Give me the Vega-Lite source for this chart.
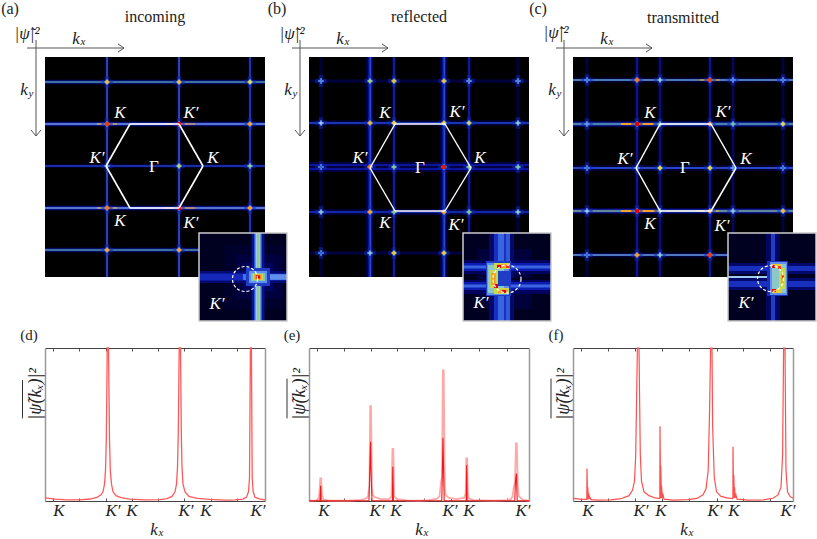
{"$schema":"https://vega.github.io/schema/vega-lite/v6.json","width":817,"height":539,"autosize":"none","padding":0,"background":"white","config":{"view":{"stroke":null},"range":{"heatmap":["#000000","#000050","#0c1cb0","#3f6fe8","#9fc8f0","#70c890","#e0e040","#ff9020","#e80000"]},"text":{"font":"Liberation Serif"}},"resolve":{"scale":{"x":"independent","y":"independent"},"axis":{"x":"independent","y":"independent"}},"layer":[
{"encoding":{"x":{"field":"x","type":"quantitative","scale":{"domain":[-110,110],"range":[45,265]},"axis":null},"y":{"field":"y","type":"quantitative","scale":{"domain":[-110,110],"range":[57,277]},"axis":null}},"layer":[
{"data":{"values":[{"x":-110,"x2":110,"y":-110,"y2":110,"v":0},
{"x":-50.5,"x2":-45.5,"y":-110,"y2":110,"v":0.07},{"x":21.5,"x2":26.5,"y":-110,"y2":110,"v":0.07},{"x":92.5,"x2":97.5,"y":-110,"y2":110,"v":0.07},
{"x":-110,"x2":110,"y":-87.5,"y2":-82.5,"v":0.08},{"x":-110,"x2":110,"y":-45.5,"y2":-40.5,"v":0.1},{"x":-110,"x2":110,"y":-3,"y2":1,"v":0.07},{"x":-110,"x2":110,"y":38.5,"y2":43.5,"v":0.1},{"x":-110,"x2":110,"y":80.5,"y2":85.5,"v":0.08},
{"x":-49,"x2":-47,"y":-110,"y2":110,"v":0.2},{"x":23,"x2":25,"y":-110,"y2":110,"v":0.2},{"x":94,"x2":96,"y":-110,"y2":110,"v":0.18},
{"x":-110,"x2":110,"y":-86.5,"y2":-83.5,"v":0.24},{"x":-110,"x2":110,"y":-44.5,"y2":-41.5,"v":0.26},{"x":-110,"x2":110,"y":-2,"y2":0,"v":0.18},{"x":-110,"x2":110,"y":39.5,"y2":42.5,"v":0.26},{"x":-110,"x2":110,"y":81.5,"y2":84.5,"v":0.24},
{"x":-48.4,"x2":-47.6,"y":-110,"y2":110,"v":0.42},{"x":23.6,"x2":24.4,"y":-110,"y2":110,"v":0.42},{"x":94.6,"x2":95.4,"y":-110,"y2":110,"v":0.38},
{"x":-110,"x2":110,"y":-85.5,"y2":-84.5,"v":0.62},{"x":-110,"x2":110,"y":-43.5,"y2":-42.5,"v":0.5},{"x":-110,"x2":110,"y":-1.4,"y2":-0.6,"v":0.33},{"x":-110,"x2":110,"y":40.5,"y2":41.5,"v":0.5},{"x":-110,"x2":110,"y":82.5,"y2":83.5,"v":0.62},
{"x":-58,"x2":-38,"y":-43.5,"y2":-42.5,"v":0.8},{"x":10,"x2":40,"y":-43.5,"y2":-42.5,"v":0.85},{"x":-58,"x2":-38,"y":40.5,"y2":41.5,"v":0.8},{"x":10,"x2":40,"y":40.5,"y2":41.5,"v":0.85}]},
"mark":"rect","encoding":{"x2":{"field":"x2"},"y2":{"field":"y2"},"color":{"field":"v","type":"quantitative","scale":{"domain":[0,1],"interpolate":"rgb"},"legend":null}}},
{"data":{"name":"na","values":[{"x":-48,"y":-85,"v":0.8},{"x":24,"y":-85,"v":0.8},{"x":95,"y":-85,"v":0.75},{"x":-48,"y":-43,"v":0.95},{"x":24,"y":-43,"v":1},{"x":95,"y":-43,"v":0.85},{"x":-48,"y":-1,"v":0.45},{"x":24,"y":-1,"v":0.7},{"x":95,"y":-1,"v":0.65},{"x":-48,"y":41,"v":0.9},{"x":24,"y":41,"v":1},{"x":95,"y":41,"v":0.85},{"x":-48,"y":83,"v":0.85},{"x":24,"y":83,"v":0.85},{"x":95,"y":83,"v":0.8}]},
"mark":{"type":"point","shape":"cross","filled":true,"size":130,"opacity":0.55,"color":"#1428b0"}},
{"data":{"name":"na"},"mark":{"type":"point","shape":"cross","filled":true,"size":30,"opacity":0.9,"color":"#5a90e8"}},
{"data":{"name":"na"},"mark":{"type":"point","shape":"circle","filled":true,"opacity":1},"encoding":{"size":{"field":"v","type":"quantitative","scale":{"domain":[0,1],"range":[1,20]},"legend":null},"color":{"field":"v","type":"quantitative","scale":{"domain":[0,1],"interpolate":"rgb"},"legend":null}}},
{"data":{"values":[{"x":-25,"x2":24,"y":-43,"y2":-43},{"x":24,"x2":48,"y":-43,"y2":-1},{"x":48,"x2":24,"y":-1,"y2":41},{"x":24,"x2":-25,"y":41,"y2":41},{"x":-25,"x2":-49,"y":41,"y2":-1},{"x":-49,"x2":-25,"y":-1,"y2":-43}]},"mark":{"type":"rule","color":"white","strokeWidth":1.6},"encoding":{"x2":{"field":"x2"},"y2":{"field":"y2"}}},
{"data":{"values":[{"x":-128,"x2":-31,"y":-119,"y2":-119},{"x":-37,"x2":-31,"y":-123,"y2":-119},{"x":-37,"x2":-31,"y":-115,"y2":-119},{"x":-119,"x2":-119,"y":-127,"y2":-31},{"x":-124,"x2":-119,"y":-37,"y2":-31},{"x":-114,"x2":-119,"y":-37,"y2":-31}]},"mark":{"type":"rule","color":"#555555","strokeWidth":1},"encoding":{"x2":{"field":"x2"},"y2":{"field":"y2"}}},
{"data":{"values":[{"x":-145,"y":-158,"t":"(a)"},{"x":0,"y":-150,"t":"incoming"}]},"mark":{"type":"text","fontSize":16,"color":"#222222"},"encoding":{"text":{"field":"t"}}},
{"data":{"values":[{"x":-128,"y":-133,"t":"|ψ̃|²"},{"x":-79,"y":-128,"t":"k"},{"x":-131,"y":-77,"t":"k"}]},"mark":{"type":"text","fontSize":17,"fontStyle":"italic","color":"#222222"},"encoding":{"text":{"field":"t"}}},
{"data":{"values":[{"x":-72,"y":-125,"t":"x"},{"x":-124,"y":-73,"t":"y"}]},"mark":{"type":"text","fontSize":11,"fontStyle":"italic","color":"#222222"},"encoding":{"text":{"field":"t"}}},
{"data":{"values":[{"x":-35,"y":-54,"t":"K"},{"x":36,"y":-54,"t":"K′"},{"x":-58,"y":-9,"t":"K′"},{"x":58,"y":-9,"t":"K"},{"x":-35,"y":54,"t":"K"},{"x":36,"y":56,"t":"K′"}]},"mark":{"type":"text","fontSize":17,"fontStyle":"italic","color":"white"},"encoding":{"text":{"field":"t"}}},
{"data":{"values":[{"x":-1,"y":0,"t":"Γ"}]},"mark":{"type":"text","fontSize":17,"color":"white"},"encoding":{"text":{"field":"t"}}}
]},
{"encoding":{"x":{"field":"x","type":"quantitative","scale":{"domain":[-44,44],"range":[199,287]},"axis":null},"y":{"field":"y","type":"quantitative","scale":{"domain":[-44,44],"range":[233,321]},"axis":null}},"layer":[
{"data":{"values":[{"x":-44,"x2":44,"y":-44,"y2":44,"v":0.05},{"x":-20,"x2":43,"y":-32,"y2":32,"v":0.07},{"x":-8,"x2":38,"y":-22,"y2":22,"v":0.1},{"x":0,"x2":30,"y":-14,"y2":14,"v":0.14},{"x":-44,"x2":44,"y":-6,"y2":6,"v":0.17},{"x":-44,"x2":44,"y":-3.5,"y2":3.5,"v":0.27},{"x":0,"x2":44,"y":-3,"y2":3,"v":0.38},{"x":21,"x2":44,"y":-2.5,"y2":2.5,"v":0.42},{"x":8.5,"x2":21.5,"y":-44,"y2":44,"v":0.2},{"x":11,"x2":19,"y":-44,"y2":44,"v":0.34},{"x":12.5,"x2":17.5,"y":-44,"y2":44,"v":0.5},{"x":14,"x2":16,"y":-44,"y2":44,"v":0.66},{"x":3,"x2":27,"y":-9,"y2":9,"v":0.3},{"x":6,"x2":24,"y":-6,"y2":6,"v":0.42},{"x":8,"x2":22,"y":-4,"y2":4,"v":0.58},{"x":10,"x2":20,"y":-3,"y2":3,"v":0.72},{"x":11.5,"x2":18.5,"y":-2.5,"y2":2.5,"v":0.88},{"x":13,"x2":17,"y":-1.5,"y2":1.5,"v":1}]},"mark":"rect","encoding":{"x2":{"field":"x2"},"y2":{"field":"y2"},"color":{"field":"v","type":"quantitative","scale":{"domain":[0,1],"interpolate":"rgb"},"legend":null}}},
{"data":{"values":[{"x":-44,"x2":44,"y":-44,"y2":44}]},"mark":{"type":"rect","fill":null,"stroke":"#cccccc","strokeWidth":1.5},"encoding":{"x2":{"field":"x2"},"y2":{"field":"y2"}}},
{"data":{"values":[{"x":2,"y":2}]},"mark":{"type":"point","shape":"circle","size":625,"stroke":"white","fill":null,"strokeWidth":1.2,"strokeDash":[3,2],"opacity":1}},
{"data":{"values":[{"x":-26,"y":27,"t":"K′"}]},"mark":{"type":"text","fontSize":17,"fontStyle":"italic","color":"white"},"encoding":{"text":{"field":"t"}}}
]},
{"encoding":{"x":{"field":"x","type":"quantitative","scale":{"domain":[-110,110],"range":[309,529]},"axis":null},"y":{"field":"y","type":"quantitative","scale":{"domain":[-110,110],"range":[57,277]},"axis":null}},"layer":[
{"data":{"values":[{"x":-110,"x2":110,"y":-110,"y2":110,"v":0},
{"x":-100,"x2":-96,"y":-110,"y2":110,"v":0.05},{"x":97,"x2":101,"y":-110,"y2":110,"v":0.05},{"x":-110,"x2":110,"y":-88,"y2":-84,"v":0.05},{"x":-110,"x2":110,"y":84,"y2":88,"v":0.05},
{"x":-53,"x2":-45,"y":-110,"y2":110,"v":0.1},{"x":21,"x2":29,"y":-110,"y2":110,"v":0.1},{"x":-27,"x2":-23,"y":-110,"y2":110,"v":0.09},{"x":48,"x2":52,"y":-110,"y2":110,"v":0.09},
{"x":-110,"x2":110,"y":-5,"y2":5,"v":0.1},{"x":-110,"x2":110,"y":-46.5,"y2":-41.5,"v":0.09},{"x":-110,"x2":110,"y":42,"y2":48,"v":0.09},
{"x":-51,"x2":-47,"y":-110,"y2":110,"v":0.2},{"x":23,"x2":27,"y":-110,"y2":110,"v":0.2},{"x":-26,"x2":-24,"y":-110,"y2":110,"v":0.18},{"x":49,"x2":51,"y":-110,"y2":110,"v":0.18},{"x":-98.6,"x2":-97.4,"y":-110,"y2":110,"v":0.13},{"x":98.4,"x2":99.6,"y":-110,"y2":110,"v":0.13},
{"x":-110,"x2":110,"y":-3,"y2":-1,"v":0.22},{"x":-110,"x2":110,"y":1,"y2":3,"v":0.22},{"x":-110,"x2":110,"y":-45,"y2":-43,"v":0.2},{"x":-110,"x2":110,"y":44,"y2":46,"v":0.2},{"x":-110,"x2":110,"y":-86.6,"y2":-85.4,"v":0.14},{"x":-110,"x2":110,"y":85.4,"y2":86.6,"v":0.14},
{"x":-49.5,"x2":-48,"y":-110,"y2":110,"v":0.32},{"x":24.5,"x2":26,"y":-110,"y2":110,"v":0.32},{"x":-25.4,"x2":-24.6,"y":-110,"y2":110,"v":0.3},{"x":49.6,"x2":50.4,"y":-110,"y2":110,"v":0.28},{"x":-110,"x2":110,"y":-44.5,"y2":-43.5,"v":0.34},{"x":-110,"x2":110,"y":44.5,"y2":45.5,"v":0.3}]},
"mark":"rect","encoding":{"x2":{"field":"x2"},"y2":{"field":"y2"},"color":{"field":"v","type":"quantitative","scale":{"domain":[0,1],"interpolate":"rgb"},"legend":null}}},
{"data":{"name":"nb","values":[{"x":-98,"y":-86,"v":0.4},{"x":-49,"y":-86,"v":0.68},{"x":-25,"y":-86,"v":0.8},{"x":25,"y":-86,"v":0.8},{"x":50,"y":-86,"v":0.4},{"x":99,"y":-86,"v":0.4},{"x":-98,"y":-44,"v":0.5},{"x":-49,"y":-44,"v":0.82},{"x":-25,"y":-44,"v":0.75},{"x":25,"y":-44,"v":0.78},{"x":50,"y":-44,"v":0.72},{"x":99,"y":-44,"v":0.55},{"x":-98,"y":0,"v":0.35},{"x":-49,"y":0,"v":0.9},{"x":-25,"y":0,"v":0.65},{"x":25,"y":0,"v":0.98},{"x":50,"y":0,"v":0.65},{"x":99,"y":0,"v":0.6},{"x":-98,"y":45,"v":0.55},{"x":-49,"y":45,"v":0.86},{"x":-25,"y":45,"v":0.65},{"x":25,"y":45,"v":0.86},{"x":50,"y":45,"v":0.65},{"x":99,"y":45,"v":0.55},{"x":-98,"y":86,"v":0.35},{"x":-49,"y":86,"v":0.55},{"x":-25,"y":86,"v":0.78},{"x":25,"y":86,"v":0.78},{"x":50,"y":86,"v":0.35},{"x":99,"y":86,"v":0.35}]},
"mark":{"type":"point","shape":"cross","filled":true,"size":130,"opacity":0.55,"color":"#1428b0"}},
{"data":{"name":"nb"},"mark":{"type":"point","shape":"cross","filled":true,"size":30,"opacity":0.9,"color":"#5a90e8"}},
{"data":{"name":"nb"},"mark":{"type":"point","shape":"circle","filled":true,"opacity":1},"encoding":{"size":{"field":"v","type":"quantitative","scale":{"domain":[0,1],"range":[1,20]},"legend":null},"color":{"field":"v","type":"quantitative","scale":{"domain":[0,1],"interpolate":"rgb"},"legend":null}}},
{"data":{"values":[{"x":-24,"x2":26,"y":-43,"y2":-43},{"x":26,"x2":52,"y":-43,"y2":1},{"x":52,"x2":26,"y":1,"y2":44},{"x":26,"x2":-24,"y":44,"y2":44},{"x":-24,"x2":-49,"y":44,"y2":1},{"x":-49,"x2":-24,"y":1,"y2":-43}]},"mark":{"type":"rule","color":"white","strokeWidth":1.4},"encoding":{"x2":{"field":"x2"},"y2":{"field":"y2"}}},
{"data":{"values":[{"x":-127,"x2":-31,"y":-119,"y2":-119},{"x":-37,"x2":-31,"y":-123,"y2":-119},{"x":-37,"x2":-31,"y":-115,"y2":-119},{"x":-119,"x2":-119,"y":-127,"y2":-31},{"x":-124,"x2":-119,"y":-37,"y2":-31},{"x":-114,"x2":-119,"y":-37,"y2":-31}]},"mark":{"type":"rule","color":"#555555","strokeWidth":1},"encoding":{"x2":{"field":"x2"},"y2":{"field":"y2"}}},
{"data":{"values":[{"x":-142,"y":-158,"t":"(b)"},{"x":0,"y":-150,"t":"reflected"}]},"mark":{"type":"text","fontSize":16,"color":"#222222"},"encoding":{"text":{"field":"t"}}},
{"data":{"values":[{"x":-127,"y":-133,"t":"|ψ̃|²"},{"x":-79,"y":-128,"t":"k"},{"x":-131,"y":-77,"t":"k"}]},"mark":{"type":"text","fontSize":17,"fontStyle":"italic","color":"#222222"},"encoding":{"text":{"field":"t"}}},
{"data":{"values":[{"x":-72,"y":-125,"t":"x"},{"x":-124,"y":-73,"t":"y"}]},"mark":{"type":"text","fontSize":11,"fontStyle":"italic","color":"#222222"},"encoding":{"text":{"field":"t"}}},
{"data":{"values":[{"x":-34,"y":-54,"t":"K"},{"x":38,"y":-55,"t":"K′"},{"x":-59,"y":-9,"t":"K′"},{"x":61,"y":-9,"t":"K"},{"x":-34,"y":56,"t":"K"},{"x":37,"y":58,"t":"K′"}]},"mark":{"type":"text","fontSize":17,"fontStyle":"italic","color":"white"},"encoding":{"text":{"field":"t"}}},
{"data":{"values":[{"x":1,"y":1,"t":"Γ"}]},"mark":{"type":"text","fontSize":17,"color":"white"},"encoding":{"text":{"field":"t"}}}
]},
{"encoding":{"x":{"field":"x","type":"quantitative","scale":{"domain":[-44,44],"range":[463,551]},"axis":null},"y":{"field":"y","type":"quantitative","scale":{"domain":[-44,44],"range":[233,321]},"axis":null}},"layer":[
{"data":{"values":[{"x":-44,"x2":44,"y":-44,"y2":44,"v":0.05},{"x":-30,"x2":25,"y":-28,"y2":32,"v":0.09},{"x":-44,"x2":44,"y":-17,"y2":-3,"v":0.14},{"x":-44,"x2":44,"y":3,"y2":17,"v":0.14},{"x":-18,"x2":7,"y":-44,"y2":44,"v":0.16},{"x":-44,"x2":44,"y":-14,"y2":-6,"v":0.25},{"x":-44,"x2":44,"y":5,"y2":13,"v":0.25},{"x":-44,"x2":44,"y":-11.5,"y2":-8.5,"v":0.36},{"x":-44,"x2":44,"y":7.5,"y2":10.5,"v":0.36},{"x":2,"x2":44,"y":1,"y2":3,"v":0.05},{"x":-13,"x2":-1,"y":-44,"y2":44,"v":0.28},{"x":-9,"x2":-3,"y":-44,"y2":44,"v":0.36},{"x":-1,"x2":3,"y":-44,"y2":44,"v":0.34},{"x":-21,"x2":4,"y":-16,"y2":19,"v":0.3},{"x":-20,"x2":2,"y":-14,"y2":18,"v":0.42},{"x":-19,"x2":-3,"y":-12,"y2":16,"v":0.55},{"x":-9,"x2":4,"y":-6,"y2":9,"v":0.3},{"x":-17,"x2":-9,"y":-7,"y2":11,"v":0.72},{"x":-16,"x2":-11,"y":-4,"y2":8,"v":0.85},{"x":-13,"x2":3,"y":-14,"y2":-8,"v":0.72},{"x":-9,"x2":2,"y":-13,"y2":-9,"v":0.85},{"x":-13,"x2":2,"y":11,"y2":17,"v":0.72},{"x":-9,"x2":1,"y":12.5,"y2":16,"v":0.85},{"x":-10,"x2":-6,"y":-12,"y2":-9,"v":1},{"x":-13,"x2":-9,"y":7,"y2":11,"v":1},{"x":-5,"x2":-1,"y":13,"y2":16,"v":1},{"x":-1,"x2":3,"y":-12,"y2":-9,"v":0.95}]},"mark":"rect","encoding":{"x2":{"field":"x2"},"y2":{"field":"y2"},"color":{"field":"v","type":"quantitative","scale":{"domain":[0,1],"interpolate":"rgb"},"legend":null}}},
{"data":{"values":[{"x":-44,"x2":44,"y":-44,"y2":44}]},"mark":{"type":"rect","fill":null,"stroke":"#cccccc","strokeWidth":1.5},"encoding":{"x2":{"field":"x2"},"y2":{"field":"y2"}}},
{"data":{"values":[{"x":0,"y":2}]},"mark":{"type":"point","shape":"circle","size":784,"stroke":"white","fill":null,"strokeWidth":1.2,"strokeDash":[3,2],"opacity":1}},
{"data":{"values":[{"x":-26,"y":26,"t":"K′"}]},"mark":{"type":"text","fontSize":17,"fontStyle":"italic","color":"white"},"encoding":{"text":{"field":"t"}}}
]},
{"encoding":{"x":{"field":"x","type":"quantitative","scale":{"domain":[-110,110],"range":[573,793]},"axis":null},"y":{"field":"y","type":"quantitative","scale":{"domain":[-110,110],"range":[57,277]},"axis":null}},"layer":[
{"data":{"values":[{"x":-110,"x2":110,"y":-110,"y2":110,"v":0},
{"x":-98,"x2":-94,"y":-110,"y2":110,"v":0.05},{"x":98,"x2":102,"y":-110,"y2":110,"v":0.05},{"x":-48.5,"x2":-43.5,"y":-110,"y2":110,"v":0.08},{"x":-25.5,"x2":-20.5,"y":-110,"y2":110,"v":0.08},{"x":24.5,"x2":29.5,"y":-110,"y2":110,"v":0.08},{"x":48,"x2":52,"y":-110,"y2":110,"v":0.07},
{"x":-110,"x2":110,"y":-89.5,"y2":-84.5,"v":0.09},{"x":-110,"x2":110,"y":-46,"y2":-40,"v":0.12},{"x":-110,"x2":110,"y":-2,"y2":4,"v":0.08},{"x":-110,"x2":110,"y":41,"y2":47,"v":0.12},{"x":-110,"x2":110,"y":85.5,"y2":90.5,"v":0.09},
{"x":-46.7,"x2":-45.3,"y":-110,"y2":110,"v":0.26},{"x":-23.7,"x2":-22.3,"y":-110,"y2":110,"v":0.22},{"x":26.3,"x2":27.7,"y":-110,"y2":110,"v":0.26},{"x":49.5,"x2":50.5,"y":-110,"y2":110,"v":0.2},{"x":99.5,"x2":100.5,"y":-110,"y2":110,"v":0.15},{"x":-96.5,"x2":-95.5,"y":-110,"y2":110,"v":0.15},
{"x":-110,"x2":110,"y":-88,"y2":-86,"v":0.28},{"x":-110,"x2":110,"y":-44.5,"y2":-41.5,"v":0.3},{"x":-110,"x2":110,"y":0,"y2":2,"v":0.24},{"x":-110,"x2":110,"y":42.5,"y2":45.5,"v":0.3},{"x":-110,"x2":110,"y":87,"y2":89,"v":0.26},
{"x":-110,"x2":110,"y":-87.4,"y2":-86.6,"v":0.6},{"x":-110,"x2":110,"y":-43.5,"y2":-42.5,"v":0.62},{"x":-110,"x2":110,"y":0.6,"y2":1.4,"v":0.38},{"x":-110,"x2":110,"y":43.5,"y2":44.5,"v":0.68},{"x":-110,"x2":110,"y":87.5,"y2":88.5,"v":0.55},
{"x":-62,"x2":-30,"y":-44,"y2":-42,"v":0.85},{"x":-62,"x2":-23,"y":43,"y2":45,"v":0.85},{"x":17,"x2":37,"y":-87.5,"y2":-86.5,"v":0.85},{"x":14,"x2":36,"y":43.5,"y2":44.5,"v":0.8}]},
"mark":"rect","encoding":{"x2":{"field":"x2"},"y2":{"field":"y2"},"color":{"field":"v","type":"quantitative","scale":{"domain":[0,1],"interpolate":"rgb"},"legend":null}}},
{"data":{"name":"nc","values":[{"x":-96,"y":-87,"v":0.38},{"x":-46,"y":-87,"v":0.9},{"x":-23,"y":-87,"v":0.55},{"x":27,"y":-87,"v":0.95},{"x":50,"y":-87,"v":0.4},{"x":100,"y":-87,"v":0.38},{"x":-96,"y":-43,"v":0.42},{"x":-46,"y":-43,"v":1},{"x":-23,"y":-43,"v":0.62},{"x":27,"y":-43,"v":0.88},{"x":50,"y":-43,"v":0.62},{"x":100,"y":-43,"v":0.76},{"x":-96,"y":1,"v":0.36},{"x":-46,"y":1,"v":0.42},{"x":-23,"y":1,"v":0.76},{"x":27,"y":1,"v":0.76},{"x":50,"y":1,"v":0.42},{"x":100,"y":1,"v":0.36},{"x":-96,"y":44,"v":0.5},{"x":-46,"y":44,"v":1},{"x":-23,"y":44,"v":0.55},{"x":27,"y":44,"v":0.86},{"x":50,"y":44,"v":0.55},{"x":100,"y":44,"v":0.8},{"x":-96,"y":88,"v":0.36},{"x":-46,"y":88,"v":0.86},{"x":-23,"y":88,"v":0.55},{"x":27,"y":88,"v":0.95},{"x":50,"y":88,"v":0.4},{"x":100,"y":88,"v":0.42}]},
"mark":{"type":"point","shape":"cross","filled":true,"size":130,"opacity":0.55,"color":"#1428b0"}},
{"data":{"name":"nc"},"mark":{"type":"point","shape":"cross","filled":true,"size":30,"opacity":0.9,"color":"#5a90e8"}},
{"data":{"name":"nc"},"mark":{"type":"point","shape":"circle","filled":true,"opacity":1},"encoding":{"size":{"field":"v","type":"quantitative","scale":{"domain":[0,1],"range":[1,20]},"legend":null},"color":{"field":"v","type":"quantitative","scale":{"domain":[0,1],"interpolate":"rgb"},"legend":null}}},
{"data":{"values":[{"x":-23,"x2":28,"y":-43,"y2":-43},{"x":28,"x2":53,"y":-43,"y2":1},{"x":53,"x2":28,"y":1,"y2":44},{"x":28,"x2":-23,"y":44,"y2":44},{"x":-23,"x2":-47,"y":44,"y2":1},{"x":-47,"x2":-23,"y":1,"y2":-43}]},"mark":{"type":"rule","color":"white","strokeWidth":1.5},"encoding":{"x2":{"field":"x2"},"y2":{"field":"y2"}}},
{"data":{"values":[{"x":-127,"x2":-31,"y":-119,"y2":-119},{"x":-37,"x2":-31,"y":-123,"y2":-119},{"x":-37,"x2":-31,"y":-115,"y2":-119},{"x":-119,"x2":-119,"y":-127,"y2":-31},{"x":-124,"x2":-119,"y":-37,"y2":-31},{"x":-114,"x2":-119,"y":-37,"y2":-31}]},"mark":{"type":"rule","color":"#555555","strokeWidth":1},"encoding":{"x2":{"field":"x2"},"y2":{"field":"y2"}}},
{"data":{"values":[{"x":-145,"y":-158,"t":"(c)"},{"x":0,"y":-149,"t":"transmitted"}]},"mark":{"type":"text","fontSize":16,"color":"#222222"},"encoding":{"text":{"field":"t"}}},
{"data":{"values":[{"x":-127,"y":-134,"t":"|ψ̃|²"},{"x":-79,"y":-128,"t":"k"},{"x":-131,"y":-77,"t":"k"}]},"mark":{"type":"text","fontSize":17,"fontStyle":"italic","color":"#222222"},"encoding":{"text":{"field":"t"}}},
{"data":{"values":[{"x":-72,"y":-125,"t":"x"},{"x":-124,"y":-73,"t":"y"}]},"mark":{"type":"text","fontSize":11,"fontStyle":"italic","color":"#222222"},"encoding":{"text":{"field":"t"}}},
{"data":{"values":[{"x":-33,"y":-54,"t":"K"},{"x":40,"y":-55,"t":"K′"},{"x":-58,"y":-8,"t":"K′"},{"x":63,"y":-8,"t":"K"},{"x":-33,"y":57,"t":"K"},{"x":39,"y":59,"t":"K′"}]},"mark":{"type":"text","fontSize":17,"fontStyle":"italic","color":"white"},"encoding":{"text":{"field":"t"}}},
{"data":{"values":[{"x":2,"y":1,"t":"Γ"}]},"mark":{"type":"text","fontSize":17,"color":"white"},"encoding":{"text":{"field":"t"}}}
]},
{"encoding":{"x":{"field":"x","type":"quantitative","scale":{"domain":[-44,44],"range":[728,816]},"axis":null},"y":{"field":"y","type":"quantitative","scale":{"domain":[-44,44],"range":[233,321]},"axis":null}},"layer":[
{"data":{"values":[{"x":-44,"x2":44,"y":-44,"y2":44,"v":0.05},{"x":-44,"x2":44,"y":-14,"y2":-3,"v":0.16},{"x":-44,"x2":44,"y":1,"y2":13,"v":0.16},{"x":-6,"x2":8,"y":-44,"y2":44,"v":0.15},{"x":-44,"x2":44,"y":-11,"y2":-6,"v":0.28},{"x":-44,"x2":44,"y":4,"y2":10,"v":0.28},{"x":-1,"x2":3,"y":-44,"y2":44,"v":0.3},{"x":-44,"x2":0,"y":-1,"y2":1,"v":0.5},{"x":-5,"x2":16,"y":-16,"y2":19,"v":0.28},{"x":-2,"x2":15,"y":-15,"y2":18,"v":0.42},{"x":0,"x2":14,"y":-13,"y2":16,"v":0.55},{"x":-1,"x2":10,"y":-13,"y2":-9,"v":0.78},{"x":0,"x2":10,"y":12,"y2":16,"v":0.78},{"x":7,"x2":13,"y":-9,"y2":12,"v":0.72},{"x":9,"x2":12,"y":-4,"y2":6,"v":0.85},{"x":0,"x2":3,"y":-12,"y2":-9,"v":1},{"x":0,"x2":4,"y":12,"y2":15,"v":1},{"x":6,"x2":9,"y":-11,"y2":-8,"v":0.95},{"x":10,"x2":12,"y":-2,"y2":1,"v":0.95}]},"mark":"rect","encoding":{"x2":{"field":"x2"},"y2":{"field":"y2"},"color":{"field":"v","type":"quantitative","scale":{"domain":[0,1],"interpolate":"rgb"},"legend":null}}},
{"data":{"values":[{"x":-44,"x2":44,"y":-44,"y2":44}]},"mark":{"type":"rect","fill":null,"stroke":"#cccccc","strokeWidth":1.5},"encoding":{"x2":{"field":"x2"},"y2":{"field":"y2"}}},
{"data":{"values":[{"x":-1.5,"y":1.5}]},"mark":{"type":"point","shape":"circle","size":676,"stroke":"white","fill":null,"strokeWidth":1.2,"strokeDash":[3,2],"opacity":1}},
{"data":{"values":[{"x":-26,"y":26,"t":"K′"}]},"mark":{"type":"text","fontSize":17,"fontStyle":"italic","color":"white"},"encoding":{"text":{"field":"t"}}}
]},
{"encoding":{"x":{"field":"x","type":"quantitative","scale":{"domain":[-110,110],"range":[45,265]},"axis":{"orient":"bottom","offset":-38,"values":[-102,-76,-49,-23,3,29,56,82],"labels":false,"title":null,"grid":false,"tickSize":-3,"tickColor":"#555555","domainColor":"#444444"}},"y":{"field":"y","type":"quantitative","scale":{"domain":[0,1],"range":[501,348]},"axis":{"orient":"left","offset":-45,"ticks":false,"labels":false,"title":null,"grid":false,"domainColor":"#999999","domainWidth":1.5}}},"layer":[
{"data":{"values":[{"x":-110,"y":0.02},{"x":-100,"y":0.012},{"x":-88,"y":0.007},{"x":-75,"y":0.008},{"x":-65,"y":0.013},{"x":-58,"y":0.024},{"x":-54,"y":0.04},{"x":-52,"y":0.06},{"x":-50.5,"y":0.11},{"x":-49.5,"y":0.2},{"x":-48.7,"y":0.4},{"x":-48.2,"y":0.7},{"x":-47.8,"y":1},{"x":-46.5,"y":1},{"x":-46,"y":0.7},{"x":-45.5,"y":0.4},{"x":-44.7,"y":0.2},{"x":-43.5,"y":0.11},{"x":-42,"y":0.06},{"x":-39,"y":0.035},{"x":-34,"y":0.022},{"x":-25,"y":0.012},{"x":-10,"y":0.007},{"x":5,"y":0.009},{"x":12,"y":0.015},{"x":17,"y":0.03},{"x":20,"y":0.06},{"x":21.5,"y":0.11},{"x":22.5,"y":0.22},{"x":23.3,"y":0.45},{"x":24.2,"y":1},{"x":25.5,"y":1},{"x":26.3,"y":0.45},{"x":27,"y":0.22},{"x":28,"y":0.11},{"x":30,"y":0.06},{"x":34,"y":0.03},{"x":42,"y":0.017},{"x":55,"y":0.01},{"x":70,"y":0.006},{"x":80,"y":0.007},{"x":88,"y":0.012},{"x":91.5,"y":0.025},{"x":93.5,"y":0.06},{"x":94.5,"y":0.15},{"x":95.4,"y":1},{"x":96.4,"y":1},{"x":97.2,"y":0.15},{"x":98.2,"y":0.06},{"x":100,"y":0.025},{"x":104,"y":0.014},{"x":110,"y":0.008}]},"mark":{"type":"line","color":"#ff5a5a","strokeWidth":1.3}}
]},
{"encoding":{"x":{"field":"x","type":"quantitative","scale":{"domain":[-110,110],"range":[45,265]},"axis":{"orient":"top","offset":-348,"values":[-102,-76,-49,-23,3,29,56,82],"labels":false,"title":null,"grid":false,"tickSize":-3,"tickColor":"#555555","domainColor":"#444444"}},"y":{"field":"y","type":"quantitative","scale":{"domain":[0,1],"range":[501,348]},"axis":{"orient":"right","offset":-552,"ticks":false,"labels":false,"title":null,"grid":false,"domainColor":"#999999","domainWidth":1.5}}},"layer":[
{"data":{"values":[{"x":-96,"y":-0.065,"t":"K"},{"x":-42,"y":-0.065,"t":"K′"},{"x":-23,"y":-0.065,"t":"K"},{"x":31,"y":-0.065,"t":"K′"},{"x":51,"y":-0.065,"t":"K"},{"x":103,"y":-0.065,"t":"K′"},{"x":-1,"y":-0.19,"t":"k"}]},"mark":{"type":"text","fontSize":17,"fontStyle":"italic","color":"#222222"},"encoding":{"text":{"field":"t"}}},
{"data":{"values":[{"x":6,"y":-0.212,"t":"x"}]},"mark":{"type":"text","fontSize":11,"fontStyle":"italic","color":"#222222"},"encoding":{"text":{"field":"t"}}},
{"data":{"values":[{"x":-126,"y":1.085,"t":"(d)"}]},"mark":{"type":"text","fontSize":15,"color":"#222222"},"encoding":{"text":{"field":"t"}}},
{"data":{"values":[{"x":-119,"y":0.7,"t":"|ψ̃(kₓ)|²"}]},"mark":{"type":"text","fontSize":18,"fontStyle":"italic","angle":270,"color":"#222222"},"encoding":{"text":{"field":"t"}}},
{"data":{"values":[{"x":-132.5,"x2":-132.5,"y":0.79,"y2":0.54}]},"mark":{"type":"rule","color":"#333333","strokeWidth":1},"encoding":{"x2":{"field":"x2"},"y2":{"field":"y2"}}}
]},
{"encoding":{"x":{"field":"x","type":"quantitative","scale":{"domain":[-110,110],"range":[309,529]},"axis":{"orient":"bottom","offset":-38,"values":[-102,-75,-48,-22,5,32,60,88],"labels":false,"title":null,"grid":false,"tickSize":-3,"tickColor":"#555555","domainColor":"#444444"}},"y":{"field":"y","type":"quantitative","scale":{"domain":[0,1],"range":[501,348]},"axis":{"orient":"left","offset":-309,"ticks":false,"labels":false,"title":null,"grid":false,"domainColor":"#999999","domainWidth":1.5}}},"layer":[
{"data":{"values":[{"x":-110,"y":0.002},{"x":-103,"y":0.004},{"x":-100.5,"y":0.012},{"x":-99.6,"y":0.05},{"x":-98.7,"y":0.148},{"x":-97.9,"y":0.148},{"x":-97,"y":0.04},{"x":-95.5,"y":0.01},{"x":-90,"y":0.003},{"x":-70,"y":0.003},{"x":-58,"y":0.007},{"x":-53,"y":0.016},{"x":-51,"y":0.03},{"x":-50,"y":0.08},{"x":-49.6,"y":0.1},{"x":-48.8,"y":0.62},{"x":-48,"y":0.62},{"x":-47,"y":0.09},{"x":-46.3,"y":0.04},{"x":-44,"y":0.025},{"x":-38,"y":0.012},{"x":-30,"y":0.012},{"x":-27.5,"y":0.03},{"x":-26.5,"y":0.34},{"x":-25.7,"y":0.34},{"x":-24.8,"y":0.03},{"x":-22,"y":0.012},{"x":-12,"y":0.004},{"x":0,"y":0.003},{"x":10,"y":0.006},{"x":18,"y":0.015},{"x":20.5,"y":0.03},{"x":22,"y":0.12},{"x":23,"y":0.16},{"x":23.9,"y":0.854},{"x":24.7,"y":0.854},{"x":25.8,"y":0.1},{"x":26.5,"y":0.04},{"x":30,"y":0.02},{"x":38,"y":0.012},{"x":45,"y":0.02},{"x":46.7,"y":0.05},{"x":47.3,"y":0.278},{"x":48.1,"y":0.278},{"x":49,"y":0.05},{"x":50,"y":0.015},{"x":55,"y":0.006},{"x":75,"y":0.002},{"x":88,"y":0.006},{"x":92,"y":0.012},{"x":93.5,"y":0.03},{"x":95,"y":0.1},{"x":96,"y":0.12},{"x":97,"y":0.376},{"x":97.8,"y":0.376},{"x":98.8,"y":0.1},{"x":99.8,"y":0.03},{"x":104,"y":0.007},{"x":110,"y":0.002}]},"mark":{"type":"line","color":"#ffa8a8","strokeWidth":1.8}},
{"data":{"values":[{"x":-110,"y":0.001},{"x":-99,"y":0.001},{"x":-98.4,"y":0.1},{"x":-97.8,"y":0.001},{"x":-50,"y":0.002},{"x":-49.4,"y":0.15},{"x":-48.8,"y":0.3},{"x":-48.4,"y":0.387},{"x":-48,"y":0.2},{"x":-47.4,"y":0.08},{"x":-47,"y":0.002},{"x":-26.6,"y":0.002},{"x":-26.2,"y":0.224},{"x":-25.6,"y":0.002},{"x":22.8,"y":0.002},{"x":23.4,"y":0.2},{"x":24,"y":0.413},{"x":24.6,"y":0.2},{"x":25.2,"y":0.002},{"x":47.2,"y":0.002},{"x":47.7,"y":0.235},{"x":48.2,"y":0.002},{"x":95.8,"y":0.002},{"x":96.4,"y":0.12},{"x":97.4,"y":0.18},{"x":98.2,"y":0.002},{"x":110,"y":0.001}]},"mark":{"type":"line","color":"#f01818","strokeWidth":1.1}}
]},
{"encoding":{"x":{"field":"x","type":"quantitative","scale":{"domain":[-110,110],"range":[309,529]},"axis":{"orient":"top","offset":-348,"values":[-102,-75,-48,-22,5,32,60,88],"labels":false,"title":null,"grid":false,"tickSize":-3,"tickColor":"#555555","domainColor":"#444444"}},"y":{"field":"y","type":"quantitative","scale":{"domain":[0,1],"range":[501,348]},"axis":{"orient":"right","offset":-288,"ticks":false,"labels":false,"title":null,"grid":false,"domainColor":"#999999","domainWidth":1.5}}},"layer":[
{"data":{"values":[{"x":-95,"y":-0.065,"t":"K"},{"x":-42,"y":-0.065,"t":"K′"},{"x":-23,"y":-0.065,"t":"K"},{"x":31,"y":-0.065,"t":"K′"},{"x":50,"y":-0.065,"t":"K"},{"x":104,"y":-0.065,"t":"K′"},{"x":0,"y":-0.19,"t":"k"}]},"mark":{"type":"text","fontSize":17,"fontStyle":"italic","color":"#222222"},"encoding":{"text":{"field":"t"}}},
{"data":{"values":[{"x":7,"y":-0.212,"t":"x"}]},"mark":{"type":"text","fontSize":11,"fontStyle":"italic","color":"#222222"},"encoding":{"text":{"field":"t"}}},
{"data":{"values":[{"x":-127,"y":1.085,"t":"(e)"}]},"mark":{"type":"text","fontSize":15,"color":"#222222"},"encoding":{"text":{"field":"t"}}},
{"data":{"values":[{"x":-119,"y":0.7,"t":"|ψ̃(kₓ)|²"}]},"mark":{"type":"text","fontSize":18,"fontStyle":"italic","angle":270,"color":"#222222"},"encoding":{"text":{"field":"t"}}},
{"data":{"values":[{"x":-132,"x2":-132,"y":0.8,"y2":0.54}]},"mark":{"type":"rule","color":"#333333","strokeWidth":1},"encoding":{"x2":{"field":"x2"},"y2":{"field":"y2"}}}
]},
{"encoding":{"x":{"field":"x","type":"quantitative","scale":{"domain":[-110,110],"range":[573,793]},"axis":{"orient":"bottom","offset":-38,"values":[-102,-75,-48,-21,6,34,60,87],"labels":false,"title":null,"grid":false,"tickSize":-3,"tickColor":"#555555","domainColor":"#444444"}},"y":{"field":"y","type":"quantitative","scale":{"domain":[0,1],"range":[501,348]},"axis":{"orient":"left","offset":-573,"ticks":false,"labels":false,"title":null,"grid":false,"domainColor":"#999999","domainWidth":1.5}}},"layer":[
{"data":{"values":[{"x":-110,"y":0.017},{"x":-103,"y":0.012},{"x":-98,"y":0.01},{"x":-96.2,"y":0.01},{"x":-96,"y":0.213},{"x":-95.4,"y":0.012},{"x":-95.2,"y":0.09},{"x":-94.6,"y":0.012},{"x":-94.4,"y":0.05},{"x":-93.8,"y":0.012},{"x":-93.5,"y":0.03},{"x":-92,"y":0.009},{"x":-85,"y":0.006},{"x":-72,"y":0.008},{"x":-62,"y":0.015},{"x":-54,"y":0.035},{"x":-50.5,"y":0.07},{"x":-48.5,"y":0.13},{"x":-47.3,"y":0.3},{"x":-45.6,"y":1},{"x":-44,"y":1},{"x":-42.7,"y":0.3},{"x":-41.5,"y":0.13},{"x":-39,"y":0.06},{"x":-34,"y":0.035},{"x":-28,"y":0.02},{"x":-23.2,"y":0.016},{"x":-23,"y":0.489},{"x":-22.4,"y":0.02},{"x":-22.2,"y":0.23},{"x":-21.6,"y":0.02},{"x":-21.4,"y":0.1},{"x":-20.6,"y":0.018},{"x":-20.2,"y":0.05},{"x":-19,"y":0.012},{"x":-10,"y":0.006},{"x":5,"y":0.009},{"x":14,"y":0.017},{"x":20,"y":0.04},{"x":23,"y":0.08},{"x":25.2,"y":0.2},{"x":26.6,"y":0.6},{"x":27.6,"y":1},{"x":29,"y":1},{"x":29.6,"y":0.5},{"x":31.2,"y":0.16},{"x":33.5,"y":0.06},{"x":38,"y":0.03},{"x":44,"y":0.02},{"x":49.9,"y":0.016},{"x":50,"y":0.354},{"x":50.6,"y":0.02},{"x":50.8,"y":0.17},{"x":51.4,"y":0.02},{"x":51.6,"y":0.09},{"x":52.2,"y":0.02},{"x":52.6,"y":0.05},{"x":54,"y":0.012},{"x":65,"y":0.006},{"x":80,"y":0.008},{"x":90,"y":0.018},{"x":95,"y":0.04},{"x":98,"y":0.09},{"x":99.6,"y":0.3},{"x":100.6,"y":1},{"x":102,"y":1},{"x":103,"y":0.2},{"x":104.5,"y":0.06},{"x":107,"y":0.03},{"x":110,"y":0.018}]},"mark":{"type":"line","color":"#ff5050","strokeWidth":1.2}}
]},
{"encoding":{"x":{"field":"x","type":"quantitative","scale":{"domain":[-110,110],"range":[573,793]},"axis":{"orient":"top","offset":-348,"values":[-102,-75,-48,-21,6,34,60,87],"labels":false,"title":null,"grid":false,"tickSize":-3,"tickColor":"#555555","domainColor":"#444444"}},"y":{"field":"y","type":"quantitative","scale":{"domain":[0,1],"range":[501,348]},"axis":{"orient":"right","offset":-24,"ticks":false,"labels":false,"title":null,"grid":false,"domainColor":"#999999","domainWidth":1.5}}},"layer":[
{"data":{"values":[{"x":-95,"y":-0.065,"t":"K"},{"x":-42,"y":-0.065,"t":"K′"},{"x":-22,"y":-0.065,"t":"K"},{"x":32,"y":-0.065,"t":"K′"},{"x":51,"y":-0.065,"t":"K"},{"x":105,"y":-0.065,"t":"K′"},{"x":1,"y":-0.19,"t":"k"}]},"mark":{"type":"text","fontSize":17,"fontStyle":"italic","color":"#222222"},"encoding":{"text":{"field":"t"}}},
{"data":{"values":[{"x":8,"y":-0.212,"t":"x"}]},"mark":{"type":"text","fontSize":11,"fontStyle":"italic","color":"#222222"},"encoding":{"text":{"field":"t"}}},
{"data":{"values":[{"x":-127,"y":1.085,"t":"(f)"}]},"mark":{"type":"text","fontSize":15,"color":"#222222"},"encoding":{"text":{"field":"t"}}},
{"data":{"values":[{"x":-119,"y":0.7,"t":"|ψ̃(kₓ)|²"}]},"mark":{"type":"text","fontSize":18,"fontStyle":"italic","angle":270,"color":"#222222"},"encoding":{"text":{"field":"t"}}},
{"data":{"values":[{"x":-132,"x2":-132,"y":0.8,"y2":0.54}]},"mark":{"type":"rule","color":"#777777","strokeWidth":1.5},"encoding":{"x2":{"field":"x2"},"y2":{"field":"y2"}}}
]}
]}
